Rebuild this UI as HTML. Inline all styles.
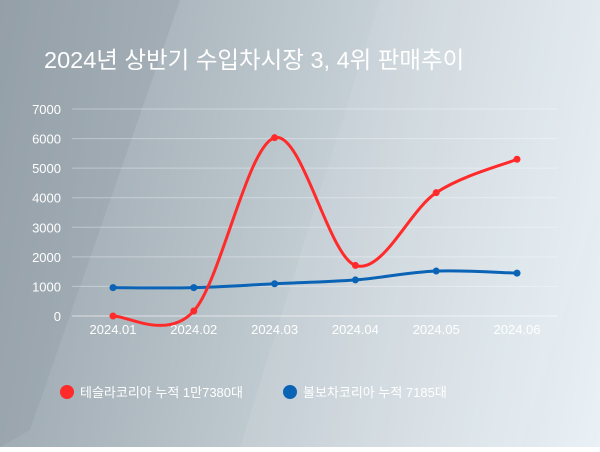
<!DOCTYPE html>
<html><head><meta charset="utf-8"><style>
body{margin:0;width:600px;height:447px;overflow:hidden;font-family:"Liberation Sans","Noto Sans CJK KR",sans-serif;}
#wrap{position:relative;width:600px;height:447px;background:linear-gradient(100deg,#97a3ab 0%,#b3bec5 35%,#d3dce2 70%,#e9f1f6 100%);}
</style></head><body>
<div id="wrap">
<svg width="600" height="447" id="svg">
<polygon points="0,0 180,0 30,430 0,447" fill="#8e99a1" opacity="0.3"/>
<polygon points="380,0 600,0 600,200 520,447 240,447" fill="#ffffff" opacity="0.08"/>
<text x="44" y="68" fill="#fff" font-size="23.5">2024년 상반기 수입차시장 3, 4위 판매추이</text>
<g id="grid"></g><g id="series"></g>
<circle cx="67" cy="392" r="7" fill="#ff2a2a"/>
<text x="80" y="397" fill="#fff" font-size="13">테슬라코리아 누적 1만7380대</text>
<circle cx="290" cy="392" r="7" fill="#0b63b6"/>
<text x="303" y="397" fill="#fff" font-size="13">볼보차코리아 누적 7185대</text>
</svg></div>
<script>
const categories=["2024.01","2024.02","2024.03","2024.04","2024.05","2024.06"];
const teslaValues=[0,170,6030,1710,4170,5300];
const volvoValues=[960,960,1090,1220,1520,1450];
const yTicks=[0,1000,2000,3000,4000,5000,6000,7000];
const NS="http://www.w3.org/2000/svg";
const x0=113,dx=80.8,yBase=316,yPer=(316-109)/7000;
const X=i=>x0+i*dx, Y=v=>yBase-v*yPer;
const grid=document.getElementById('grid'),ser=document.getElementById('series');
yTicks.forEach(t=>{
 const l=document.createElementNS(NS,'line');
 
 
 l.setAttribute('x1',72);l.setAttribute('x2',558);l.setAttribute('y1',Y(t));l.setAttribute('y2',Y(t));
 l.setAttribute('stroke',t===0?'rgba(255,255,255,0.6)':'rgba(255,255,255,0.35)');l.setAttribute('stroke-width',1);
 grid.appendChild(l);
 const tx=document.createElementNS(NS,'text');
 
 
 tx.setAttribute('x',61);tx.setAttribute('y',Y(t)+5);tx.setAttribute('text-anchor','end');
 tx.setAttribute('fill','#fff');tx.setAttribute('font-size','13');tx.textContent=t;grid.appendChild(tx);
});
categories.forEach((c,i)=>{
 const tx=document.createElementNS(NS,'text');
 
 
 tx.setAttribute('x',X(i));tx.setAttribute('y',334);tx.setAttribute('text-anchor','middle');
 tx.setAttribute('fill','#fff');tx.setAttribute('font-size','13');tx.textContent=c;grid.appendChild(tx);
});
function path(vals){
 const p=vals.map((v,i)=>[X(i),Y(v)]);let d='M'+p[0];
 const k=1/6;
 for(let i=0;i<p.length-1;i++){
  const a=p[i-1]||p[i],b=p[i],c=p[i+1],e=p[i+2]||c;
  d+=' C'+(b[0]+(c[0]-a[0])*k)+','+(b[1]+(c[1]-a[1])*k)+' '+(c[0]-(e[0]-b[0])*k)+','+(c[1]-(e[1]-b[1])*k)+' '+c;
 }
 return d;
}
function draw(vals,color,name){
 const pa=document.createElementNS(NS,'path');
 
 
 pa.setAttribute('d',path(vals));pa.setAttribute('fill','none');pa.setAttribute('stroke',color);pa.setAttribute('stroke-width',3);
 ser.appendChild(pa);
 vals.forEach((v,i)=>{
  const c=document.createElementNS(NS,'circle');
  
  
  c.setAttribute('cx',X(i));c.setAttribute('cy',Y(v));c.setAttribute('r',3.5);c.setAttribute('fill',color);
  ser.appendChild(c);
 });
}
draw(volvoValues,'#0b63b6','volvo');
draw(teslaValues,'#ff2a2a','tesla');
</script>
</body></html>
